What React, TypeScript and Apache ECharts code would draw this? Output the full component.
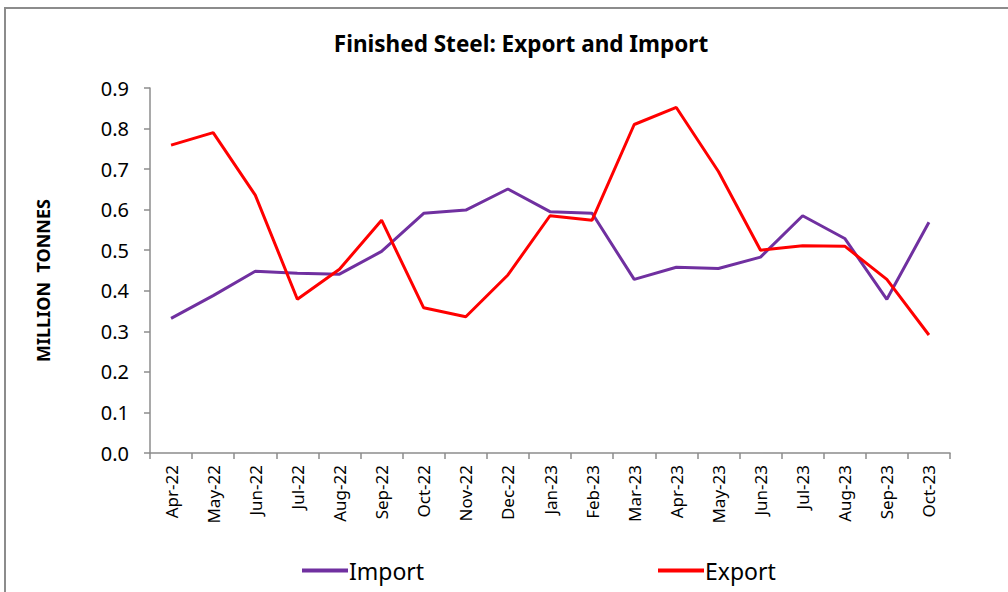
import React, { useEffect, useRef } from "react";
import * as echarts from "echarts";

const months = [
  "Apr-22", "May-22", "Jun-22", "Jul-22", "Aug-22", "Sep-22", "Oct-22", "Nov-22", "Dec-22",
  "Jan-23", "Feb-23", "Mar-23", "Apr-23", "May-23", "Jun-23", "Jul-23", "Aug-23", "Sep-23", "Oct-23",
];
const importValues = [
  0.332, 0.388, 0.448, 0.443, 0.441, 0.497, 0.591, 0.599, 0.651,
  0.595, 0.591, 0.428, 0.458, 0.455, 0.483, 0.585, 0.529, 0.379, 0.569,
];
const exportValues = [
  0.759, 0.790, 0.636, 0.379, 0.453, 0.574, 0.358, 0.336, 0.439,
  0.585, 0.574, 0.810, 0.852, 0.694, 0.500, 0.511, 0.510, 0.428, 0.291,
];

const FONT = "'Noto Sans', sans-serif";

export default function App() {
  const ref = useRef<HTMLDivElement>(null);
  useEffect(() => {
    if (!ref.current) return;
    const chart = echarts.init(ref.current, undefined, { renderer: "svg" });
    chart.setOption({
      animation: false,
      backgroundColor: "#fff",
      textStyle: { fontFamily: FONT },
      title: {
        text: "Finished Steel: Export and Import",
        left: 516,
        textAlign: "center",
        top: 27,
        textStyle: { fontSize: 22.5, fontWeight: "bold", color: "#000", fontFamily: FONT },
      },
      graphic: [
        {
          type: "rect",
          shape: { x: 5, y: 8, width: 1100, height: 700 },
          style: { fill: "none", stroke: "#8c8c8c", lineWidth: 2 },
          silent: true,
        },
      ],
      grid: { left: 150, right: 58, top: 88, bottom: 139 },
      legend: [
        {
          data: ["Import"],
          left: 297,
          top: 554,
          icon: "rect",
          itemWidth: 46,
          itemHeight: 4,
          textStyle: { fontSize: 23, color: "#000", fontFamily: FONT, padding: [0, 0, 0, -4] },
        },
        {
          data: ["Export"],
          left: 653,
          top: 554,
          icon: "rect",
          itemWidth: 46,
          itemHeight: 4,
          textStyle: { fontSize: 23, color: "#000", fontFamily: FONT, padding: [0, 0, 0, -4] },
        },
      ],
      xAxis: {
        type: "category",
        data: months,
        boundaryGap: true,
        axisLine: { lineStyle: { color: "#8c8c8c", width: 1.5 } },
        axisTick: { show: true, length: 6, lineStyle: { color: "#8c8c8c", width: 1.5 } },
        axisLabel: {
          rotate: 90,
          interval: 0,
          margin: 12,
          fontSize: 17,
          color: "#000",
          fontFamily: FONT,
        },
      },
      yAxis: {
        type: "value",
        min: 0,
        max: 0.9,
        interval: 0.1,
        name: "MILLION  TONNES",
        nameLocation: "middle",
        nameGap: 98,
        nameTextStyle: {
          fontSize: 18,
          fontWeight: "bold",
          color: "#000",
          fontFamily: FONT,
          padding: [0, 20, 0, 0],
        },
        splitLine: { show: false },
        axisLine: { show: true, lineStyle: { color: "#8c8c8c", width: 1.5 } },
        axisTick: { show: true, length: 6, lineStyle: { color: "#8c8c8c", width: 1.5 } },
        axisLabel: {
          margin: 21,
          fontSize: 20,
          color: "#000",
          fontFamily: FONT,
          formatter: (v: number) => v.toFixed(1),
        },
      },
      series: [
        {
          name: "Import",
          type: "line",
          data: importValues,
          symbol: "none",
          lineStyle: { color: "#7030A0", width: 3 },
          itemStyle: { color: "#7030A0" },
        },
        {
          name: "Export",
          type: "line",
          data: exportValues,
          symbol: "none",
          lineStyle: { color: "#FF0000", width: 3 },
          itemStyle: { color: "#FF0000" },
        },
      ],
    });
    return () => chart.dispose();
  }, []);
  return (
    <div
      ref={ref}
      style={{ position: "absolute", left: 0, top: 0, width: 1008, height: 592 }}
    />
  );
}
